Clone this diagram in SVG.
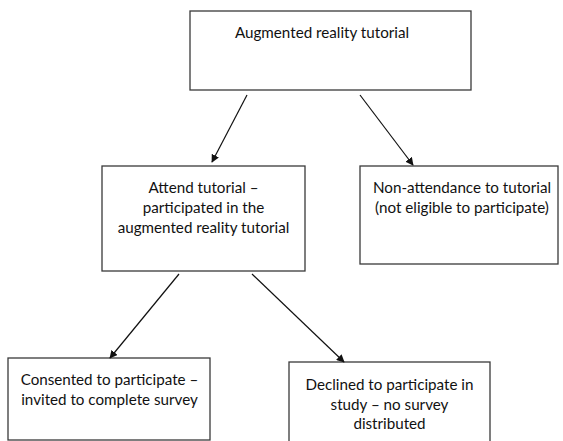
<svg xmlns="http://www.w3.org/2000/svg" width="563" height="441" viewBox="0 0 563 441">
<defs>
<style>
.box{fill:#fff;stroke:#3a3a3a;stroke-width:1.3}
.t{font-family:Lato,"Liberation Sans",sans-serif;font-size:15.2px;fill:#111;text-anchor:middle}
.c{stroke:#111;stroke-width:1.2;fill:none;marker-end:url(#ah)}
</style>
<marker id="ah" viewBox="0 0 10 10" refX="9" refY="5" markerWidth="8" markerHeight="8" markerUnits="userSpaceOnUse" orient="auto">
<path d="M0,0 L10,5 L0,10 z" fill="#111"/>
</marker>
</defs>
<rect width="563" height="441" fill="#fff"/>
<g id="n1"><rect class="box" x="190" y="11" width="281" height="79"/><text class="t" x="322" y="38">Augmented reality tutorial</text></g>
<g id="n2"><rect class="box" x="102" y="166" width="203" height="105"/><text class="t" x="203.5" y="193">Attend tutorial –</text><text class="t" x="203.5" y="213">participated in the</text><text class="t" x="203.5" y="233">augmented reality tutorial</text></g>
<g id="n3"><rect class="box" x="360" y="166" width="198" height="98"/><text class="t" x="462" y="193">Non-attendance to tutorial</text><text class="t" x="462" y="213">(not eligible to participate)</text></g>
<g id="n4"><rect class="box" x="8" y="358" width="202" height="82"/><text class="t" x="109.5" y="385">Consented to participate –</text><text class="t" x="109.5" y="405">invited to complete survey</text></g>
<g id="n5"><rect class="box" x="289" y="362" width="201" height="85"/><text class="t" x="389.5" y="390">Declined to participate in</text><text class="t" x="389.5" y="410">study – no survey</text><text class="t" x="389.5" y="429">distributed</text></g>
<g id="connectors">
<line class="c" x1="247" y1="95" x2="212" y2="162"/>
<line class="c" x1="360" y1="95" x2="413" y2="165"/>
<line class="c" x1="179" y1="274" x2="110" y2="358"/>
<line class="c" x1="252" y1="274" x2="344" y2="362"/>
</g>
</svg>
